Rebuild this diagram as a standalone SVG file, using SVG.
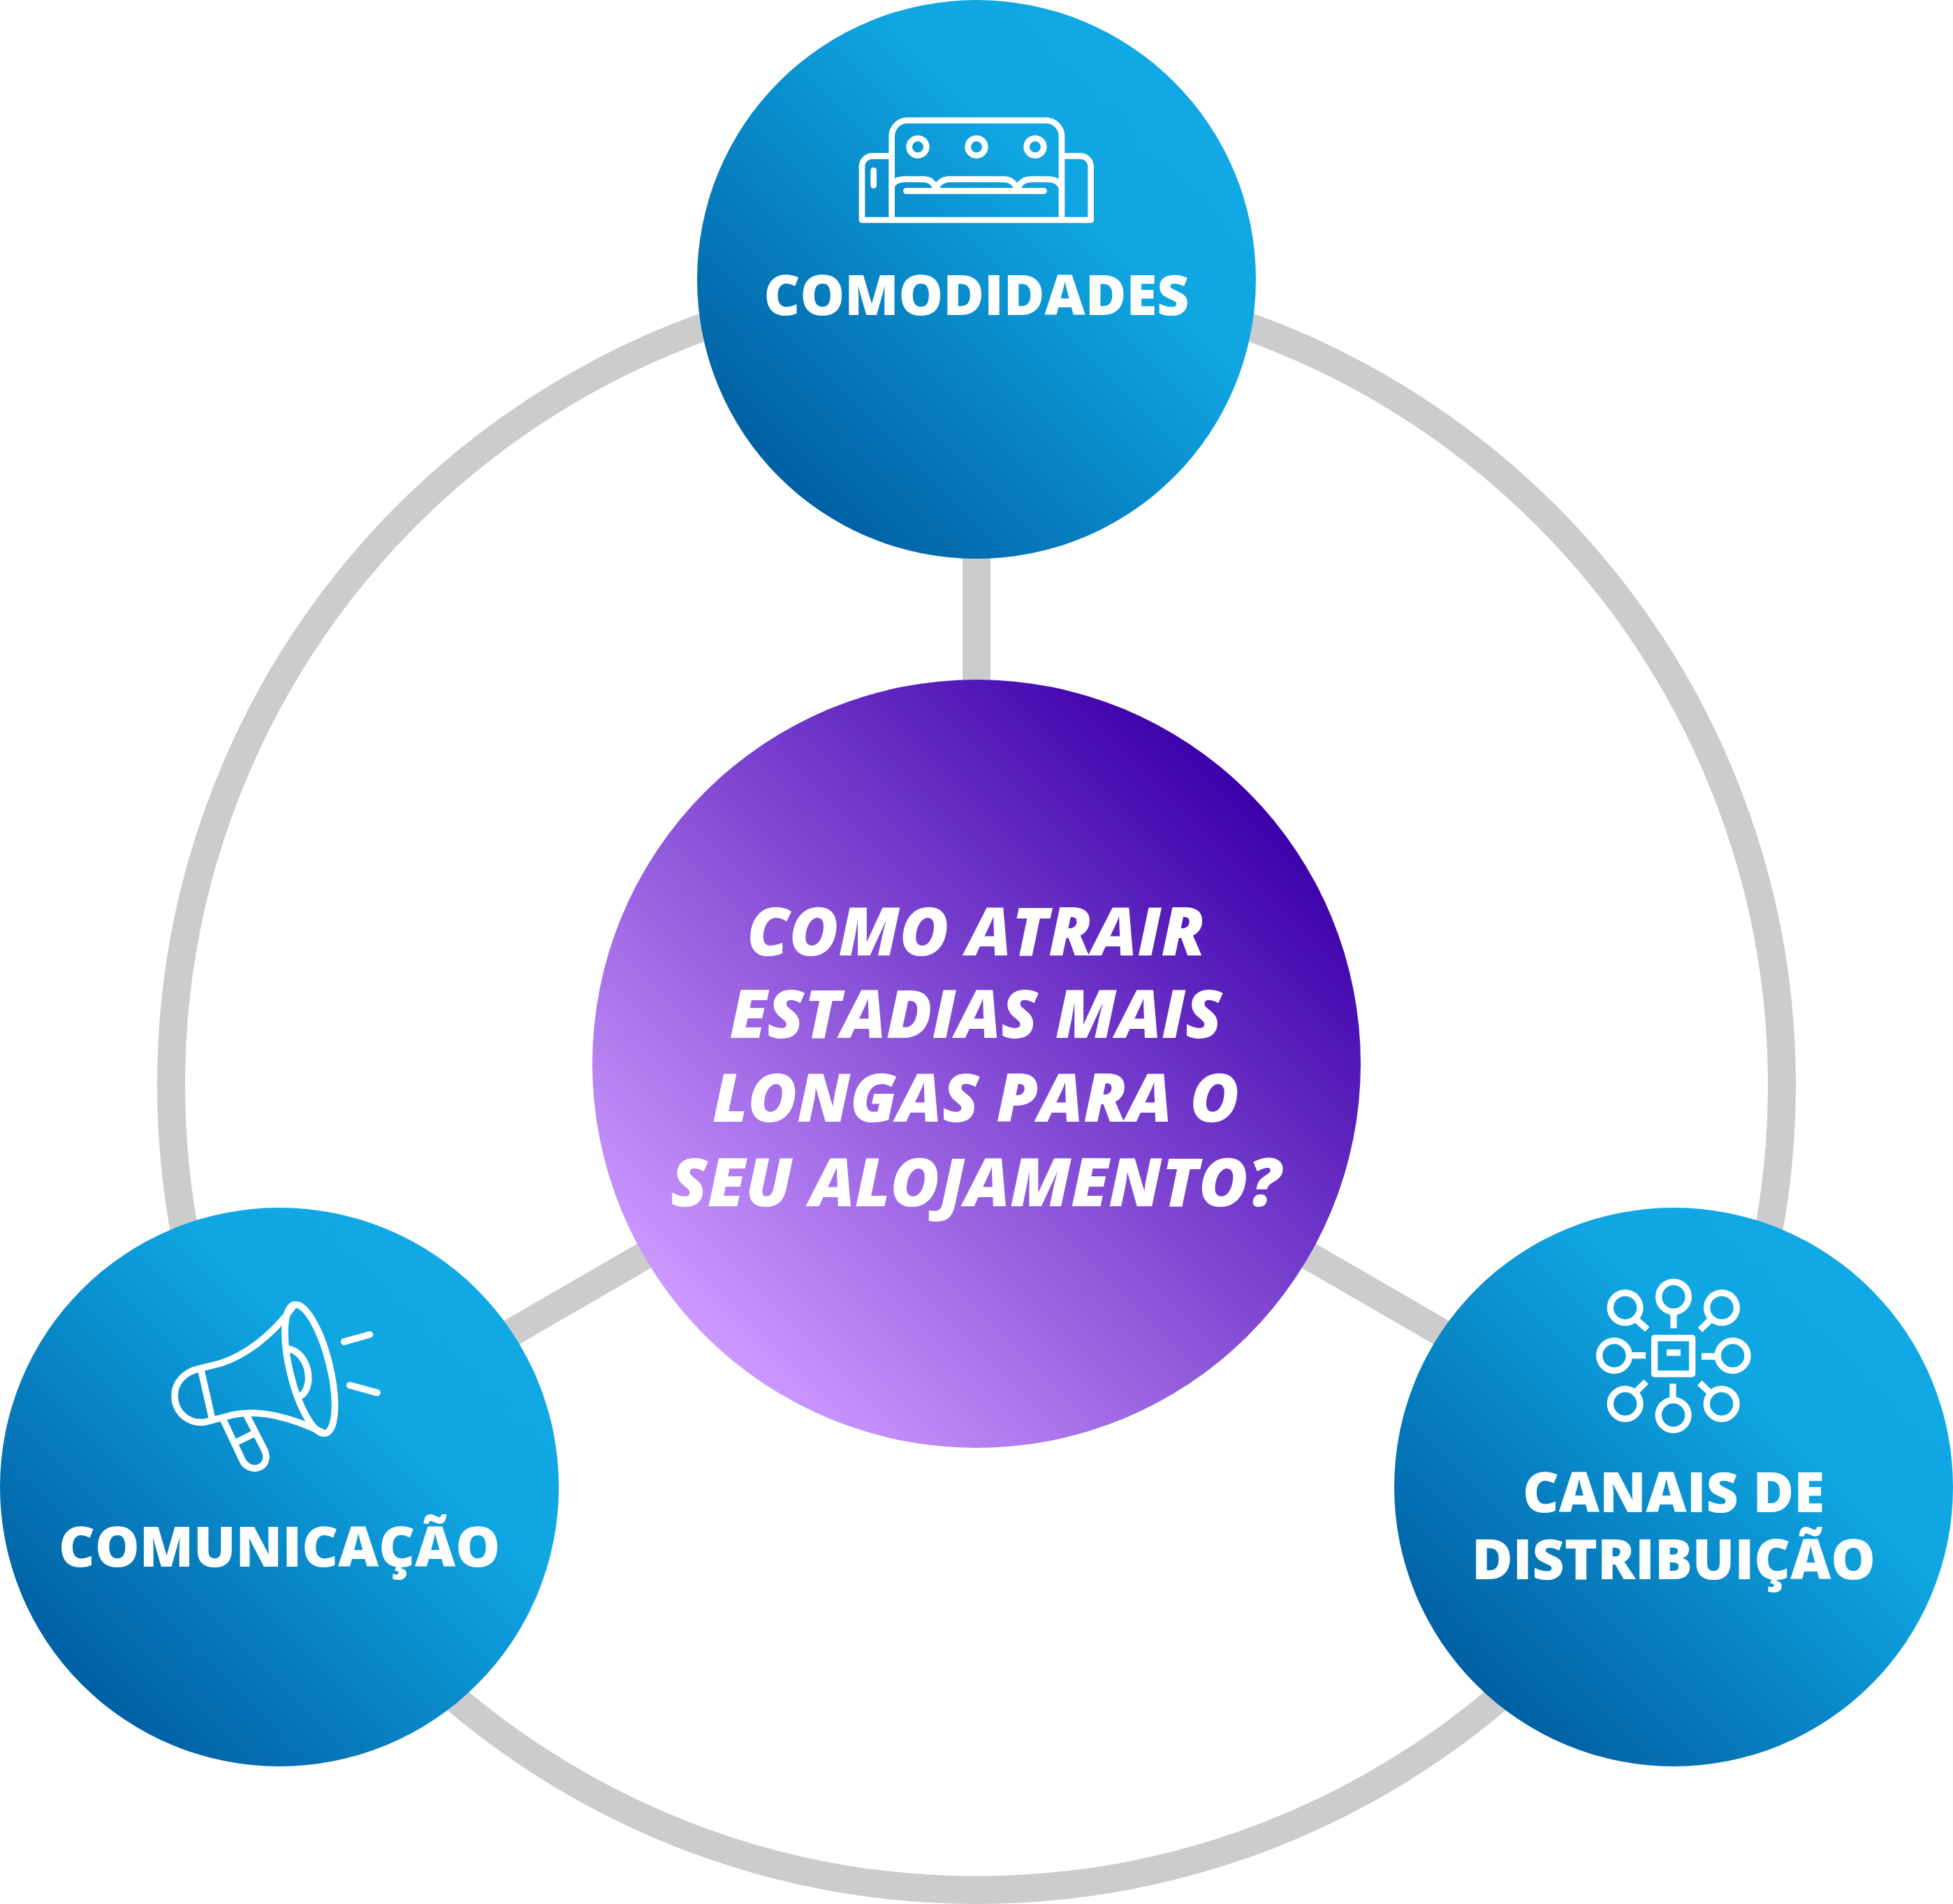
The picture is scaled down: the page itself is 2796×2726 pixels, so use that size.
<svg xmlns="http://www.w3.org/2000/svg" width="2796" height="2726" viewBox="0 0 2796 2726">
<style>
.t{font-family:"Open Sans","Noto Sans",sans-serif;font-weight:800;fill:#fff;text-anchor:middle;font-size:80px}
.q{font-size:96px;font-style:italic}
.i{fill:none;stroke:#fff;stroke-width:26;stroke-linecap:round;stroke-linejoin:round}
.c{fill:none;stroke:#ccc;stroke-width:40}
</style>
<defs>
<linearGradient id="b" x1="0.146" y1="0.854" x2="0.854" y2="0.146"><stop offset="0" stop-color="#0060a4"/><stop offset="0.72" stop-color="#0fa6e2"/><stop offset="1" stop-color="#11a9e5"/></linearGradient>
<linearGradient id="p" x1="0.146" y1="0.854" x2="0.854" y2="0.146"><stop offset="0" stop-color="#cc99ff"/><stop offset="1" stop-color="#3c00aa"/></linearGradient>
</defs>
<g id="connectors">
<circle class="c" cx="1398" cy="1553" r="1153"/>
<path class="c" d="M1398 400V1523M1398 1523L400 2100M1398 1523L2396 2100"/>
</g>
<g id="center"><circle cx="1398" cy="1523" r="550" fill="url(#p)"/>
<text class="t q" x="1397" y="1368">COMO ATRAIR</text>
<text class="t q" x="1397" y="1486">ESTADIAS MAIS</text>
<text class="t q" x="1397" y="1606">LONGAS PARA O</text>
<text class="t q" x="1397" y="1727">SEU ALOJAMENTO?</text></g>
<g id="comodidades"><circle cx="1398" cy="400" r="400" fill="url(#b)"/>
<g class="i" transform="translate(1200 140) scale(.3333)">
<path d="M230 250H147A45 45 0 0 0 102 295V525H1085V295A45 45 0 0 0 1040 250H960M230 525V165A68 68 0 0 1 298 97H892A68 68 0 0 1 960 165V525"/>
<circle cx="342" cy="211" r="37"/><circle cx="594" cy="211" r="37"/><circle cx="846" cy="211" r="37"/>
<path d="M152 312V376M292 400H884M230 378Q245 350 285 350H365Q410 350 420 395M420 395Q432 350 480 350H710Q755 350 770 395M770 395Q782 350 830 350H900Q945 350 960 385"/>
</g>
<text class="t" x="1398" y="451">COMODIDADES</text></g>
<g id="comunicacao"><circle cx="400" cy="2129" r="400" fill="url(#b)"/>
<g class="i" transform="translate(220 1840) scale(.3333)" style="stroke-width:29">
<ellipse cx="671" cy="360" rx="86" ry="284" transform="rotate(-13.7 671 360)"/>
<path d="M600 90C500 230 380 305 290 335L190 360C130 375 90 420 90 475C90 550 155 600 225 587L340 557C440 535 560 555 720 630M205 370L250 570M300 580L380 750C395 785 435 795 460 780C488 762 488 730 472 700L400 560M355 675L425 640M585 275C640 290 665 350 665 400C665 435 650 465 632 475M818 243L928 212M842 430L960 462"/>
</g>
<text class="t" x="400" y="2243">COMUNICAÇÃO</text></g>
<g id="canais"><circle cx="2396" cy="2129" r="400" fill="url(#b)"/>
<g class="i" transform="translate(2260 1810) scale(.3333)" style="stroke-width:28;stroke-linecap:butt">
<circle cx="408" cy="140" r="64"/><circle cx="200" cy="187" r="64"/><circle cx="615" cy="187" r="64"/><circle cx="153" cy="393" r="64"/><circle cx="662" cy="393" r="64"/><circle cx="200" cy="600" r="64"/><circle cx="407" cy="648" r="64"/><circle cx="614" cy="600" r="64"/>
<rect x="326" y="317" width="162" height="154"/>
<path d="M408 205V275M250 240L295 280M565 240L522 282M225 392H288M590 396H528M290 505L245 550M520 510L570 557M405 513V580M378 380H438"/>
</g>
<text class="t" x="2396" y="2165">CANAIS DE</text>
<text class="t" x="2396" y="2261">DISTRIBUIÇÃO</text></g>
</svg>
